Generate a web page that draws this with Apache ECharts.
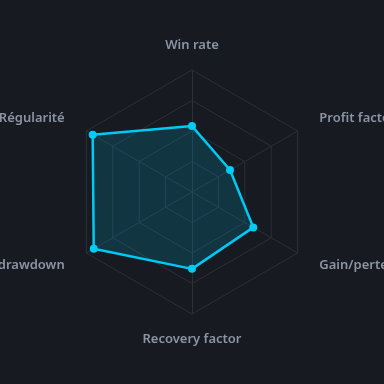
<!DOCTYPE html>
<html lang="fr">
<head>
<meta charset="utf-8" />
<title>Radar</title>
<script src="https://cdn.jsdelivr.net/npm/echarts@6/dist/echarts.min.js"></script>
<style>
	html,body{margin:0;padding:0;background:#171a21;}
	#main{width:384px;height:384px;}
</style>
</head>
<body>
<div id="main"></div>
<script>
// ordre anti-horaire (sens du radar ECharts), en partant du haut
var indicators = ['Win rate', 'Régularité', 'Max drawdown', 'Recovery factor', 'Gain/perte', 'Profit factor'];
var maxValues = [100, 100, 100, 100, 100, 100];
var scores = [54, 94, 93, 63, 58, 36];

var chart = echarts.init(document.getElementById('main'));
var option = {
	backgroundColor: '#171a21',
	radar: {
		center: ['50%', '50%'],
		radius: 122,
		startAngle: 90,
		splitNumber: 4,
		shape: 'polygon',
		indicator: indicators.map(function (n, i) { return { name: n, max: maxValues[i] }; }),
		axisName: {
			color: '#8b94a3',
			fontSize: 13,
			fontWeight: 600,
			fontFamily: 'Noto Sans',
			verticalAlign: 'middle'
		},
		nameGap: 25,
		splitLine: { lineStyle: { color: '#2a2f3a', width: 1 } },
		splitArea: { show: false },
		axisLine: { lineStyle: { color: '#2a2f3a', width: 1 } }
	},
	series: [{
		type: 'radar',
		symbol: 'circle',
		symbolSize: 8,
		data: [{
			value: scores,
			lineStyle: { color: '#00ccf5', width: 2.5 },
			itemStyle: { color: '#00ccf5' },
			areaStyle: { color: 'rgba(0, 180, 220, 0.25)' }
		}]
	}]
};
chart.setOption(option);
</script>
</body>
</html>
